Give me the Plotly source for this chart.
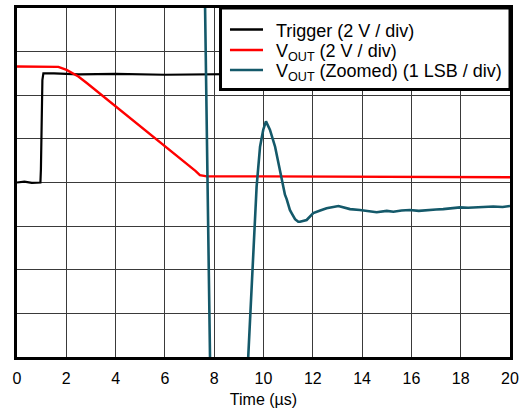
import plotly.graph_objects as go

# Time in microseconds, amplitudes in screen divisions (0 = bottom, 8 = top)
trigger_t = [0.0, 0.3, 0.6, 0.95, 0.97, 1.0, 1.03, 1.07, 1.5, 2.5, 4.0, 6.0, 8.0, 10.0, 12.0, 14.0, 16.0, 18.0, 20.0]
trigger_v = [4.0, 4.02, 3.99, 4.0, 4.3, 5.6, 6.35, 6.5, 6.5, 6.48, 6.49, 6.47, 6.48, 6.49, 6.48, 6.48, 6.49, 6.48, 6.48]

vout_t = [0.0, 1.0, 1.68, 2.01, 2.49, 2.83, 4.04, 4.86, 5.94, 6.88, 7.25, 7.42, 7.7, 10.0, 14.0, 20.0]
vout_v = [6.66, 6.66, 6.65, 6.58, 6.43, 6.28, 5.73, 5.36, 4.86, 4.44, 4.26, 4.17, 4.14, 4.14, 4.13, 4.12]

zoom_t = [7.58, 7.63, 7.83, 7.88, 8.5, 9.0, 9.25, 9.38, 9.55, 9.72, 9.86, 9.99, 10.1, 10.26, 10.47,
          10.60, 10.74, 10.87, 10.94, 11.07, 11.14, 11.28, 11.41, 11.48, 11.75, 12.02, 12.3, 12.56,
          13.04, 13.3, 13.51, 13.91, 14.3, 14.59, 15.0, 15.27, 15.6, 15.94, 16.3, 16.62, 17.0, 17.29,
          17.6, 17.97, 18.3, 18.65, 19.0, 19.32, 19.7, 20.0]
zoom_v = [10.0, 8.0, 0.0, -2.0, -6.0, -4.0, -1.5, 0.0, 2.1, 3.9, 4.82, 5.21, 5.4, 5.21, 4.82,
          4.44, 4.02, 3.72, 3.62, 3.37, 3.30, 3.16, 3.10, 3.10, 3.14, 3.30, 3.36, 3.41,
          3.46, 3.42, 3.39, 3.37, 3.34, 3.32, 3.35, 3.33, 3.36, 3.37, 3.35, 3.37, 3.38, 3.39,
          3.41, 3.43, 3.42, 3.43, 3.44, 3.45, 3.44, 3.46]

x_ticks = [0, 2, 4, 6, 8, 10, 12, 14, 16, 18, 20]

series_names = ["Trigger (2 V / div)", "V<sub>OUT</sub> (2 V / div)", "V<sub>OUT</sub> (Zoomed) (1 LSB / div)"]
series_colors = ["#000000", "#FF0000", "#14596A"]
series_widths = [2.2, 2.4, 2.6]

font = "Liberation Sans, Arial, sans-serif"

fig = go.Figure()
for t, v, name, col, w in zip([trigger_t, vout_t, zoom_t], [trigger_v, vout_v, zoom_v],
                              series_names, series_colors, series_widths):
    fig.add_trace(go.Scatter(x=t, y=v, mode="lines", line=dict(color=col, width=w),
                             name=name, showlegend=False))

# Legend box drawn in paper coordinates (top-right, overlapping the plot frame)
legend_x0, legend_x1, legend_y0, legend_y1 = 0.4128, 1.0, 0.7665, 1.0
line_y = [0.9384, 0.8797, 0.8224]
text_y = [0.9355, 0.8711, 0.8138]
shapes = [dict(type="rect", xref="paper", yref="paper", x0=legend_x0, x1=legend_x1,
               y0=legend_y0, y1=legend_y1, fillcolor="white",
               line=dict(color="black", width=3), layer="above")]
annotations = []
for name, col, ly, ty in zip(series_names, series_colors, line_y, text_y):
    shapes.append(dict(type="line", xref="paper", yref="paper", x0=0.432, x1=0.499,
                       y0=ly, y1=ly, line=dict(color=col, width=2.5), layer="above"))
    annotations.append(dict(text=name, xref="paper", yref="paper", x=0.5203, y=ty,
                            xanchor="left", yanchor="middle", showarrow=False,
                            font=dict(family=font, size=18, color="black")))

fig.update_layout(
    width=524, height=408,
    margin=dict(l=17, r=14, t=8, b=51),
    paper_bgcolor="white", plot_bgcolor="white",
    font=dict(family=font, size=16, color="black"),
    showlegend=False,
    shapes=shapes, annotations=annotations,
    xaxis=dict(range=[0, 20], tickvals=x_ticks, ticktext=[str(v) for v in x_ticks],
               showgrid=True, gridcolor="#3a3a3a", gridwidth=1,
               showline=True, linecolor="black", linewidth=3, mirror=True,
               ticks="outside", ticklen=5, tickcolor="rgba(0,0,0,0)",
               zeroline=False, automargin=False,
               title=dict(text="Time (µs)", font=dict(family=font, size=16), standoff=12),
               tickfont=dict(family=font, size=16)),
    yaxis=dict(range=[0, 8], dtick=1, showticklabels=False,
               showgrid=True, gridcolor="#3a3a3a", gridwidth=1,
               showline=True, linecolor="black", linewidth=3, mirror=True,
               zeroline=False, ticks="", automargin=False),
)

fig.write_html("out.html", config={"displayModeBar": False},
               post_script="document.body.style.margin='0';")
